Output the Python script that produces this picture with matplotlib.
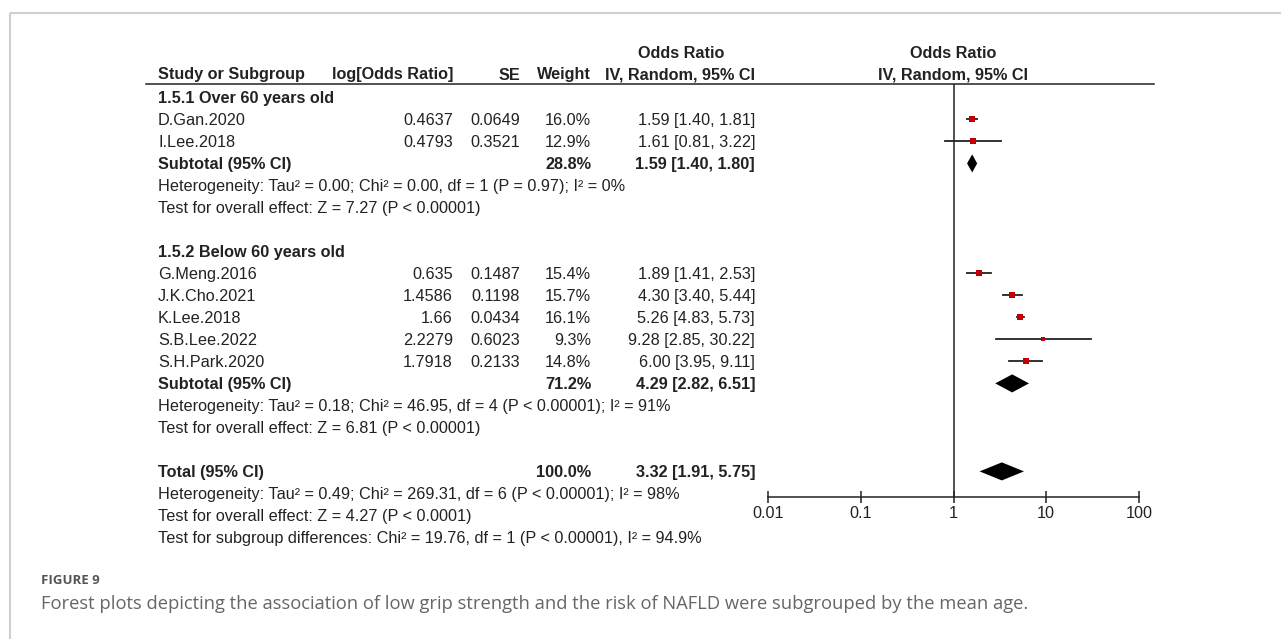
import matplotlib

matplotlib.use("Agg")
import matplotlib.pyplot as plt
from matplotlib.patches import Polygon

# ---- data ----
group_titles = ["1.5.1 Over 60 years old", "1.5.2 Below 60 years old"]
studies = ["D.Gan.2020", "I.Lee.2018", "G.Meng.2016", "J.K.Cho.2021",
           "K.Lee.2018", "S.B.Lee.2022", "S.H.Park.2020"]
study_group = [0, 0, 1, 1, 1, 1, 1]
log_or = ["0.4637", "0.4793", "0.635", "1.4586", "1.66", "2.2279", "1.7918"]
se = ["0.0649", "0.3521", "0.1487", "0.1198", "0.0434", "0.6023", "0.2133"]
weight = [16.0, 12.9, 15.4, 15.7, 16.1, 9.3, 14.8]
or_est = [1.59, 1.61, 1.89, 4.30, 5.26, 9.28, 6.00]
or_lo = [1.40, 0.81, 1.41, 3.40, 4.83, 2.85, 3.95]
or_hi = [1.81, 3.22, 2.53, 5.44, 5.73, 30.22, 9.11]

sub_weight = [28.8, 71.2]
sub_est = [1.59, 4.29]
sub_lo = [1.40, 2.82]
sub_hi = [1.80, 6.51]
sub_het = [
    "Heterogeneity: Tau² = 0.00; Chi² = 0.00, df = 1 (P = 0.97); I² = 0%",
    "Heterogeneity: Tau² = 0.18; Chi² = 46.95, df = 4 (P < 0.00001); I² = 91%",
]
sub_test = [
    "Test for overall effect: Z = 7.27 (P < 0.00001)",
    "Test for overall effect: Z = 6.81 (P < 0.00001)",
]

tot_weight = 100.0
tot_est, tot_lo, tot_hi = 3.32, 1.91, 5.75
tot_notes = [
    "Heterogeneity: Tau² = 0.49; Chi² = 269.31, df = 6 (P < 0.00001); I² = 98%",
    "Test for overall effect: Z = 4.27 (P < 0.0001)",
    "Test for subgroup differences: Chi² = 19.76, df = 1 (P < 0.00001), I² = 94.9%",
]

xticks = [0.01, 0.1, 1, 10, 100]
xtick_labels = ["0.01", "0.1", "1", "10", "100"]

caption_label = "FIGURE 9"
caption = ("Forest plots depicting the association of low grip strength and the "
           "risk of NAFLD were subgrouped by the mean age.")

# ---- layout (pixels) ----
W, H = 1281, 639
ROW0, DY = 97.4, 22.0
X_NAME, X_LOG, X_SE, X_W, X_CI = 158, 453, 520, 591, 755
PLOT_L, PLOT_R, PLOT_T, PLOT_B = 768, 1139, 84, 497
FS = 11.7
BASE = 5.5  # baseline offset below row centre
INK = "#222222"
plt.rcParams["font.family"] = ["Liberation Sans", "DejaVu Sans"]


def fmt_ci(e, lo, hi):
    return f"{e:.2f} [{lo:.2f}, {hi:.2f}]"


fig = plt.figure(figsize=(W / 100, H / 100), dpi=100)
tx = fig.add_axes([0, 0, 1, 1])
tx.set_xlim(0, W)
tx.set_ylim(H, 0)
tx.axis("off")

# card border
tx.plot([9.5, W], [13, 13], color="#cfcfcf", lw=1.5, solid_capstyle="butt")
tx.plot([9.5, 9.5], [13, H], color="#cfcfcf", lw=1.5, solid_capstyle="butt")

# header
hdr = dict(fontsize=FS, fontweight="bold", color=INK, va="baseline")
h1, h2 = 53 + BASE, 74 + BASE
tx.text(681, h1, "Odds Ratio", ha="center", **hdr)
tx.text(953, h1, "Odds Ratio", ha="center", **hdr)
tx.text(X_NAME, h2, "Study or Subgroup", ha="left", **hdr)
tx.text(X_LOG, h2, "log[Odds Ratio]", ha="right", **hdr)
tx.text(X_SE, h2, "SE", ha="right", **hdr)
tx.text(X_W, h2, "Weight", ha="right", **hdr)
tx.text(X_CI, h2, "IV, Random, 95% CI", ha="right", **hdr)
tx.text(953, h2, "IV, Random, 95% CI", ha="center", **hdr)
tx.plot([146, 1154], [PLOT_T, PLOT_T], color=INK, lw=1.1)

# forest axes
fx = fig.add_axes([PLOT_L / W, 1 - PLOT_B / H, (PLOT_R - PLOT_L) / W, (PLOT_B - PLOT_T) / H])
fx.set_xscale("log")
fx.set_xlim(xticks[0], xticks[-1])
fx.set_ylim((PLOT_B - ROW0) / DY, (PLOT_T - ROW0) / DY)
fx.patch.set_alpha(0)
for s in ["top", "left", "right"]:
    fx.spines[s].set_visible(False)
fx.spines["bottom"].set_color(INK)
fx.spines["bottom"].set_linewidth(1.1)
fx.set_yticks([])
fx.set_xticks(xticks)
fx.set_xticklabels(xtick_labels)
fx.minorticks_off()
fx.tick_params(axis="x", direction="inout", length=9, width=1.1, colors=INK,
               labelsize=FS, pad=2)
fx.axvline(1, color=INK, lw=1.1)


def row_y(i):
    return ROW0 + DY * i + BASE


def diamond(i, est, lo, hi):
    fx.add_patch(Polygon([(lo, i), (est, i - 0.41), (hi, i), (est, i + 0.41)],
                         closed=True, color="black", lw=0))


reg = dict(fontsize=FS, color=INK, va="baseline")
bold = dict(reg, fontweight="bold")

row = 0
for g in range(2):
    tx.text(X_NAME, row_y(row), group_titles[g], ha="left", **bold)
    row += 1
    for k, name in enumerate(studies):
        if study_group[k] != g:
            continue
        y = row_y(row)
        tx.text(X_NAME, y, name, ha="left", **reg)
        tx.text(X_LOG, y, log_or[k], ha="right", **reg)
        tx.text(X_SE, y, se[k], ha="right", **reg)
        tx.text(X_W, y, f"{weight[k]:.1f}%", ha="right", **reg)
        tx.text(X_CI, y, fmt_ci(or_est[k], or_lo[k], or_hi[k]), ha="right", **reg)
        fx.plot([or_lo[k], or_hi[k]], [row, row], color=INK, lw=1.3, zorder=2)
        fx.plot([or_est[k]], [row], marker="s", color="#c00000",
                markersize=0.42 * weight[k] * 0.72, mew=0, zorder=3)
        row += 1
    y = row_y(row)
    tx.text(X_NAME, y, "Subtotal (95% CI)", ha="left", **bold)
    tx.text(X_W, y, f"{sub_weight[g]:.1f}%", ha="right", **bold)
    tx.text(X_CI, y, fmt_ci(sub_est[g], sub_lo[g], sub_hi[g]), ha="right", **bold)
    diamond(row, sub_est[g], sub_lo[g], sub_hi[g])
    row += 1
    tx.text(X_NAME, row_y(row), sub_het[g], ha="left", **reg)
    row += 1
    tx.text(X_NAME, row_y(row), sub_test[g], ha="left", **reg)
    row += 2

y = row_y(row)
tx.text(X_NAME, y, "Total (95% CI)", ha="left", **bold)
tx.text(X_W, y, f"{tot_weight:.1f}%", ha="right", **bold)
tx.text(X_CI, y, fmt_ci(tot_est, tot_lo, tot_hi), ha="right", **bold)
diamond(row, tot_est, tot_lo, tot_hi)
row += 1
for note in tot_notes:
    tx.text(X_NAME, row_y(row), note, ha="left", **reg)
    row += 1

# caption
tx.text(41, 580, caption_label, ha="left", va="center", fontsize=9.5,
        fontweight="bold", color="#555555", family=["Open Sans", "DejaVu Sans"])
tx.text(41, 604, caption, ha="left", va="center", fontsize=13.2,
        color="#666666", family=["Open Sans", "DejaVu Sans"])

fig.savefig("out.png", dpi=100)
